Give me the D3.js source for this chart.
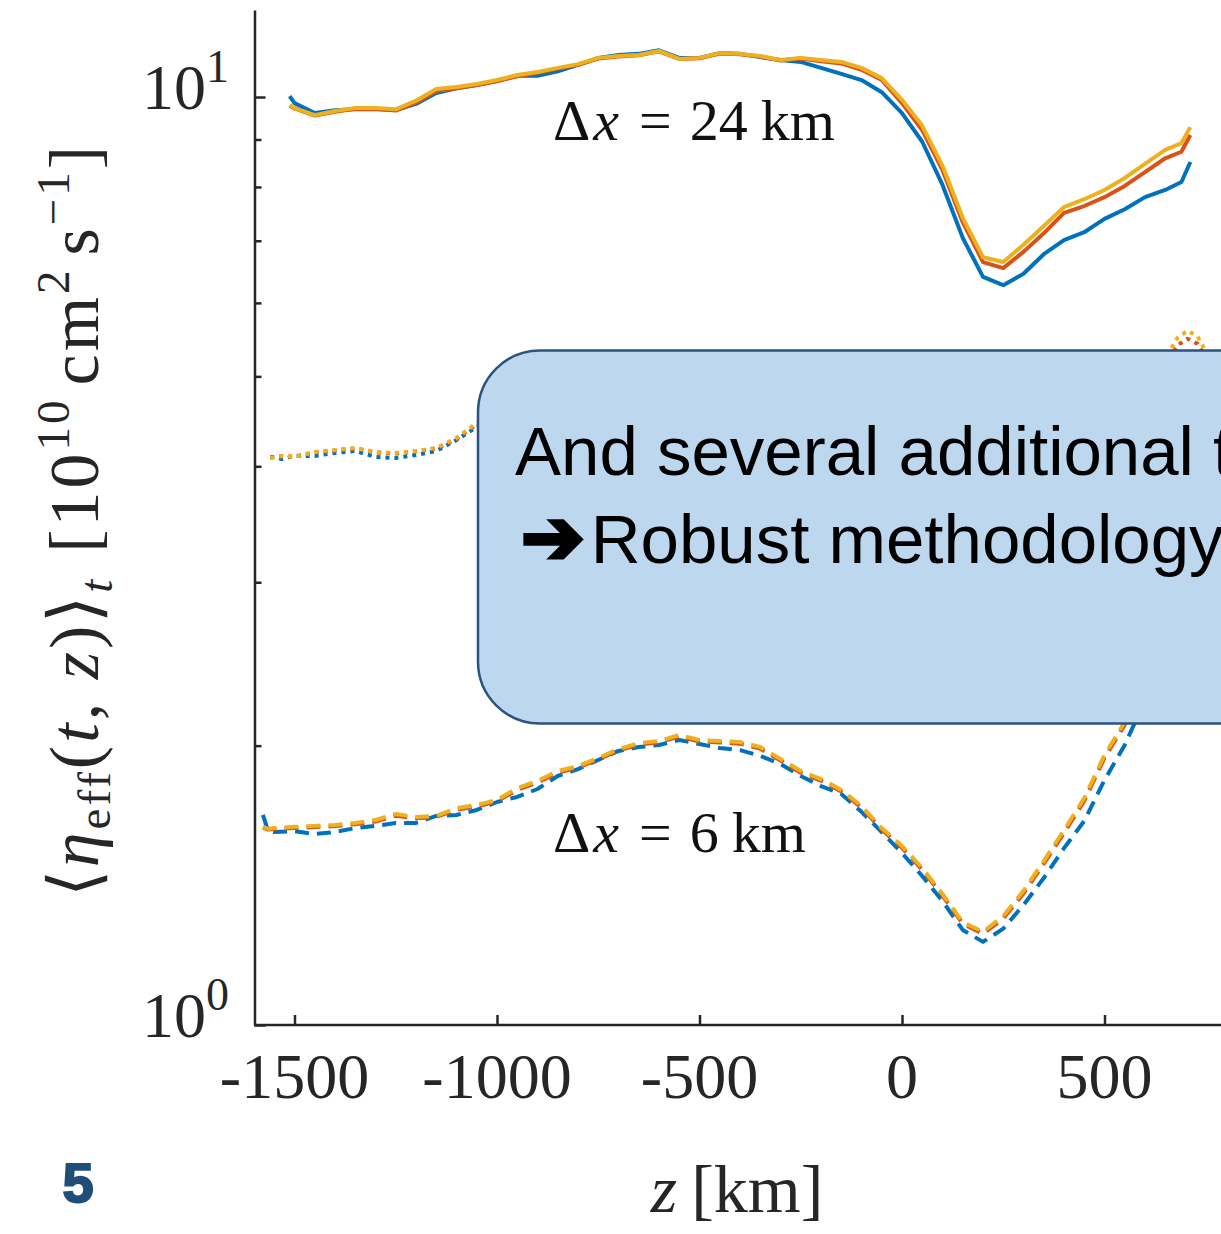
<!DOCTYPE html>
<html><head><meta charset="utf-8">
<script src="https://cdn.jsdelivr.net/npm/d3@7"></script>
<style>body{margin:0;background:#fff;overflow:hidden;} svg{display:block;}</style>
</head><body>
<script>
// ---------- data ----------
const zSolid = [-1512,-1500,-1450,-1400,-1350,-1300,-1250,-1200,-1150,-1100,-1050,-1000,-950,-900,-850,-800,-750,-700,-650,-600,-550,-500,-450,-400,-350,-300,-250,-200,-150,-100,-50,0,50,100,150,200,250,300,350,400,450,500,550,600,650,690,712];
const solidBlue = [10.02,9.85,9.61,9.68,9.70,9.70,9.68,9.83,10.10,10.22,10.30,10.41,10.54,10.54,10.66,10.83,11.02,11.10,11.13,11.23,11.02,11.02,11.15,11.13,11.04,10.96,10.91,10.75,10.59,10.43,10.12,9.61,8.95,8.04,7.05,6.40,6.27,6.45,6.77,7.01,7.15,7.39,7.57,7.80,7.94,8.10,8.51];
const solidOrange = [9.78,9.72,9.55,9.64,9.71,9.71,9.67,9.86,10.15,10.22,10.30,10.40,10.53,10.62,10.73,10.83,11.00,11.06,11.09,11.20,10.99,11.01,11.14,11.12,11.06,10.95,11.00,10.93,10.87,10.70,10.43,9.85,9.21,8.34,7.33,6.64,6.54,6.81,7.13,7.50,7.63,7.80,8.02,8.30,8.59,8.73,9.10];
const solidYellow = [9.80,9.73,9.56,9.66,9.73,9.73,9.70,9.91,10.20,10.25,10.33,10.43,10.56,10.64,10.75,10.85,11.02,11.07,11.10,11.21,10.99,11.02,11.15,11.13,11.07,10.96,11.02,10.96,10.91,10.75,10.48,9.93,9.31,8.43,7.41,6.72,6.64,6.93,7.26,7.61,7.76,7.94,8.18,8.47,8.77,8.92,9.28];

const zDotted = [-1560,-1530,-1500,-1450,-1400,-1350,-1300,-1250,-1200,-1150,-1100,-1050,-1000,-900,-800,-700,-600,-500,-400,-300,-200,-100,0,100,200,300,400,500,600,650,680,705,730,750,770];
const dottedBlue = [4.094,4.073,4.104,4.104,4.135,4.155,4.094,4.083,4.114,4.155,4.270,4.410,4.55,4.75,4.85,4.88,4.88,4.85,4.78,4.65,4.45,4.15,3.75,3.35,3.15,3.30,3.65,4.05,4.60,4.95,5.12,5.20,5.15,5.05,4.90];
const dottedOrange = [4.090,4.100,4.098,4.140,4.160,4.180,4.140,4.128,4.150,4.180,4.280,4.440,4.58,4.78,4.88,4.92,4.92,4.89,4.82,4.70,4.50,4.20,3.80,3.40,3.20,3.36,3.72,4.15,4.72,5.15,5.40,5.49,5.42,5.25,5.05];
const dottedYellow = [4.083,4.104,4.094,4.145,4.166,4.186,4.145,4.135,4.155,4.186,4.291,4.454,4.60,4.80,4.90,4.95,4.95,4.92,4.85,4.72,4.52,4.22,3.82,3.42,3.22,3.38,3.75,4.20,4.78,5.22,5.50,5.60,5.52,5.32,5.10];

const zDashed = [-1578,-1565,-1550,-1500,-1450,-1400,-1350,-1300,-1250,-1200,-1150,-1100,-1050,-1000,-950,-900,-850,-800,-750,-700,-650,-600,-550,-500,-450,-400,-350,-300,-250,-200,-150,-100,-50,0,50,100,150,200,250,300,350,400,450,500,550,600,650,700];
const dashedBlue = [1.684,1.618,1.614,1.618,1.606,1.614,1.630,1.639,1.651,1.651,1.680,1.684,1.705,1.739,1.761,1.796,1.855,1.887,1.930,1.974,1.993,2.003,2.028,2.008,1.988,1.978,1.950,1.911,1.855,1.809,1.774,1.697,1.614,1.532,1.447,1.360,1.266,1.229,1.270,1.347,1.440,1.551,1.659,1.836,2.003,2.239,2.442,2.632];
const dashedOrange = [1.632,1.624,1.626,1.630,1.634,1.638,1.646,1.657,1.681,1.670,1.676,1.706,1.720,1.742,1.792,1.825,1.870,1.894,1.933,1.976,2.005,2.016,2.046,2.021,2.016,2.010,1.985,1.928,1.870,1.834,1.785,1.715,1.624,1.552,1.470,1.378,1.286,1.254,1.302,1.386,1.492,1.610,1.744,1.940,2.106,2.310,2.520,2.715];
const dashedYellow = [1.635,1.627,1.630,1.635,1.639,1.643,1.651,1.663,1.688,1.676,1.680,1.713,1.726,1.748,1.800,1.832,1.878,1.901,1.940,1.983,2.013,2.023,2.054,2.028,2.023,2.018,1.993,1.935,1.878,1.841,1.792,1.722,1.630,1.559,1.476,1.384,1.291,1.260,1.310,1.395,1.502,1.622,1.756,1.954,2.121,2.324,2.536,2.732];

const xTicks = [-1500,-1000,-500,0,500];
const yMajor = [1,10];
const yMajorExp = ["0","1"];
const yMinor = [2,3,4,5,6,7,8,9];
const boxLine1 = "And several additional tests";
const boxArrow = "\u2794";
const boxLine2 = "Robust methodology";

// ---------- setup ----------
const W=1221,H=1234;
const svg=d3.select("body").append("svg").attr("width",W).attr("height",H);
const x=d3.scaleLinear().domain([-1600,800]).range([254,1226]);
const y=d3.scaleLog().domain([1,12.41]).range([1025,10]);
const col={blue:"#0072BD",orange:"#D95319",yellow:"#EDB120"};
const serif="'Liberation Serif','Times New Roman',serif";
const axisCol="#262626";

// ---------- lines ----------
const groups=[
  {z:zSolid,s:[[solidBlue,col.blue],[solidOrange,col.orange],[solidYellow,col.yellow]],dash:null},
  {z:zDotted,s:[[dottedBlue,col.blue],[dottedOrange,col.orange],[dottedYellow,col.yellow]],dash:"4,5"},
  {z:zDashed,s:[[dashedBlue,col.blue],[dashedOrange,col.orange],[dashedYellow,col.yellow]],dash:"14,8"}
];
const gl=svg.append("g");
groups.forEach(g=>{
  g.s.forEach(([vals,c])=>{
    const line=d3.line().x((d,i)=>x(g.z[i])).y(d=>y(d));
    gl.append("path").attr("d",line(vals)).attr("fill","none")
      .attr("stroke",c).attr("stroke-width",4)
      .attr("stroke-linejoin","round")
      .attr("stroke-dasharray",g.dash);
  });
});

// ---------- axes ----------
const gx=svg.append("g").attr("transform","translate(0,1025)")
  .call(d3.axisBottom(x).tickValues(xTicks).tickSize(-10).tickSizeOuter(0).tickFormat(""));
const gy=svg.append("g").attr("transform","translate(254.5,0)")
  .call(d3.axisLeft(y).tickValues(yMajor).tickSize(-11).tickSizeOuter(0).tickFormat(""));
const gym=svg.append("g").attr("transform","translate(254.5,0)")
  .call(d3.axisLeft(y).tickValues(yMinor).tickSize(-7).tickSizeOuter(0).tickFormat(""));
gym.select(".domain").remove();
[gx,gy,gym].forEach(g=>{g.selectAll("path,line").attr("stroke",axisCol).attr("stroke-width",2.5);});
gx.select(".domain").attr("d","M254,0H1226");

// x tick labels
svg.append("g").selectAll("text").data(xTicks).join("text")
  .attr("x",d=>x(d)).attr("y",1098).attr("text-anchor","middle")
  .attr("font-family",serif).attr("font-size",64).attr("fill",axisCol)
  .text(d=>String(d));
// y tick labels
yMajor.forEach((v,i)=>{
  const t=svg.append("text").attr("x",229).attr("y",y(v)+12).attr("text-anchor","end")
    .attr("font-family",serif).attr("font-size",64).attr("fill",axisCol);
  t.append("tspan").text("10");
  t.append("tspan").attr("dy",-27).attr("font-size",46).text(yMajorExp[i]);
});

// x label
const xl=svg.append("text").attr("x",737).attr("y",1212).attr("text-anchor","middle")
  .attr("font-family",serif).attr("font-size",68).attr("fill",axisCol);
xl.append("tspan").attr("font-style","italic").text("z");
xl.append("tspan").attr("dx",14).text("[km]");

// y label
const fs=70, fsS=47;
const yl=svg.append("text").attr("transform","translate(98,520) rotate(-90)")
  .attr("text-anchor","middle").attr("font-family",serif).attr("font-size",fs)
  .attr("letter-spacing",3).attr("fill",axisCol);
yl.append("tspan").text("\u27E8");
yl.append("tspan").attr("font-style","italic").text("\u03B7");
yl.append("tspan").attr("font-size",fsS).attr("dy",12).text("eff");
yl.append("tspan").attr("dy",-12).text("(");
yl.append("tspan").attr("font-style","italic").text("t");
yl.append("tspan").text(", ");
yl.append("tspan").attr("font-style","italic").text("z");
yl.append("tspan").text(")\u27E9");
yl.append("tspan").attr("font-size",fsS).attr("font-style","italic").attr("dy",14).text("t");
yl.append("tspan").attr("dy",-14).attr("dx",24).text("[10");
yl.append("tspan").attr("font-size",fsS).attr("dy",-29).text("10");
yl.append("tspan").attr("dy",29).attr("dx",12).text("cm");
yl.append("tspan").attr("font-size",fsS).attr("dy",-29).text("2");
yl.append("tspan").attr("dy",29).attr("dx",12).text("s");
yl.append("tspan").attr("font-size",fsS).attr("dy",-29).text("\u22121");
yl.append("tspan").attr("dy",29).text("]");

// annotations
function annot(yy,num){
  const t=svg.append("text").attr("x",553).attr("y",yy).attr("font-family",serif)
    .attr("font-size",58).attr("fill","#111");
  t.append("tspan").text("\u0394");
  t.append("tspan").attr("font-style","italic").attr("dx",3).text("x");
  t.append("tspan").attr("dx",20).text("=");
  t.append("tspan").attr("dx",18).text(num);
  t.append("tspan").attr("dx",13).text("km");
}
annot(140,"24");
annot(852,"6");

// ---------- overlay box ----------
svg.append("rect").attr("x",478).attr("y",350.5).attr("width",900).attr("height",373)
  .attr("rx",62).attr("ry",62).attr("fill","#BDD7EE").attr("stroke","#2A5381").attr("stroke-width",2.5);
const sans="'Liberation Sans',Arial,sans-serif";
svg.append("text").attr("x",515).attr("y",475).attr("font-family",sans).attr("font-size",69).attr("fill","#000").text(boxLine1);
const t2=svg.append("text").attr("x",521).attr("y",563).attr("font-family",sans).attr("font-size",69).attr("fill","#000");
t2.append("tspan").attr("font-family","'DejaVu Sans',sans-serif").attr("font-size",76)
  .attr("stroke","#000").attr("stroke-width",4).attr("stroke-linejoin","miter").text(boxArrow);
t2.append("tspan").attr("dx",6).text(boxLine2);

// slide number
svg.append("text").attr("x",78).attr("y",1202).attr("text-anchor","middle")
  .attr("font-family",sans).attr("font-weight","bold")
  .attr("font-size",56).attr("fill","#1F4E79").attr("stroke","#1F4E79").attr("stroke-width",2).text("5");
</script>
</body></html>
